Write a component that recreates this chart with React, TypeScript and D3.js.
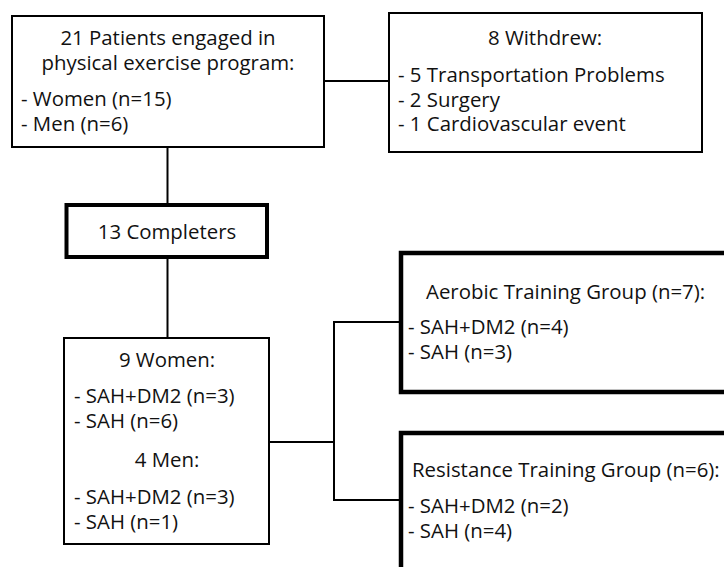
import React, { useEffect, useRef } from 'react';
import * as d3 from 'd3';

// flow chart content
const enrolledTitle = ['21 Patients engaged in', 'physical exercise program:'];
const enrolledItems = ['- Women (n=15)', '- Men (n=6)'];
const withdrewTitle = ['8 Withdrew:'];
const withdrewItems = ['- 5 Transportation Problems', '- 2 Surgery', '- 1 Cardiovascular event'];
const completersTitle = ['13 Completers'];
const womenTitle = ['9 Women:'];
const womenItems = ['- SAH+DM2 (n=3)', '- SAH (n=6)'];
const menTitle = ['4 Men:'];
const menItems = ['- SAH+DM2 (n=3)', '- SAH (n=1)'];
const aerobicTitle = ['Aerobic Training Group (n=7):'];
const aerobicItems = ['- SAH+DM2 (n=4)', '- SAH (n=3)'];
const resistanceTitle = ['Resistance Training Group (n=6):'];
const resistanceItems = ['- SAH+DM2 (n=2)', '- SAH (n=4)'];

const FONT = '"Open Sans", sans-serif';
const FONT_SIZE = 20.4;
const LINE = 24.5;

// boxes: x, y, width, height, border
const boxes = [
  { id: 'enrolled', x: 12, y: 16, w: 312, h: 131, sw: 2 },
  { id: 'withdrew', x: 389, y: 13, w: 313, h: 139, sw: 2 },
  { id: 'completers', x: 66.5, y: 205, w: 200.5, h: 52, sw: 4 },
  { id: 'groups', x: 64, y: 338, w: 205, h: 206, sw: 2 },
  { id: 'aerobic', x: 401, y: 253, w: 340, h: 139, sw: 4.5 },
  { id: 'resistance', x: 401, y: 433, w: 340, h: 160, sw: 4.5 },
];

// connectors as polylines
const links = [
  [[167.5, 147], [167.5, 205]],
  [[167.5, 257], [167.5, 338]],
  [[324, 81], [389, 81]],
  [[269, 442], [334, 442]],
  [[401, 322], [334, 322], [334, 500], [401, 500]],
];

// text blocks: lines, anchor, x, first baseline
const blocks = [
  { lines: enrolledTitle, anchor: 'middle', x: 168, y: 45 },
  { lines: enrolledItems, anchor: 'start', x: 21, y: 106 },
  { lines: withdrewTitle, anchor: 'middle', x: 545, y: 45 },
  { lines: withdrewItems, anchor: 'start', x: 398, y: 82 },
  { lines: completersTitle, anchor: 'middle', x: 167, y: 239 },
  { lines: womenTitle, anchor: 'middle', x: 167, y: 367 },
  { lines: womenItems, anchor: 'start', x: 74, y: 403 },
  { lines: menTitle, anchor: 'middle', x: 167, y: 467 },
  { lines: menItems, anchor: 'start', x: 74, y: 504 },
  { lines: aerobicTitle, anchor: 'start', x: 426, y: 299 },
  { lines: aerobicItems, anchor: 'start', x: 408, y: 334 },
  { lines: resistanceTitle, anchor: 'start', x: 412, y: 477 },
  { lines: resistanceItems, anchor: 'start', x: 408, y: 513 },
];

const Flowchart = () => {
  const svgRef = useRef<SVGSVGElement>(null);

  useEffect(() => {
    const svg = d3.select(svgRef.current);
    svg.selectAll('*').remove();

    const line = d3.line();

    svg.append('g')
      .selectAll('path')
      .data(links)
      .enter()
      .append('path')
      .attr('d', d => line(d as [number, number][]))
      .attr('fill', 'none')
      .attr('stroke', '#000')
      .attr('stroke-width', 2);

    svg.append('g')
      .selectAll('rect')
      .data(boxes)
      .enter()
      .append('rect')
      .attr('x', d => d.x)
      .attr('y', d => d.y)
      .attr('width', d => d.w)
      .attr('height', d => d.h)
      .attr('fill', '#fff')
      .attr('stroke', '#000')
      .attr('stroke-width', d => d.sw);

    const text = svg.append('g')
      .attr('font-family', FONT)
      .attr('font-size', FONT_SIZE)
      .attr('fill', '#111');

    blocks.forEach(b => {
      text.append('g')
        .selectAll('text')
        .data(b.lines)
        .enter()
        .append('text')
        .attr('x', b.x)
        .attr('y', (_, i) => b.y + i * LINE)
        .attr('text-anchor', b.anchor)
        .text(d => d);
    });
  }, []);

  return (
    <svg
      ref={svgRef}
      width={724}
      height={567}
      style={{ position: 'absolute', left: 0, top: 0, display: 'block', background: '#fff' }}
    />
  );
};

export default function App() {
  return <Flowchart />;
}
